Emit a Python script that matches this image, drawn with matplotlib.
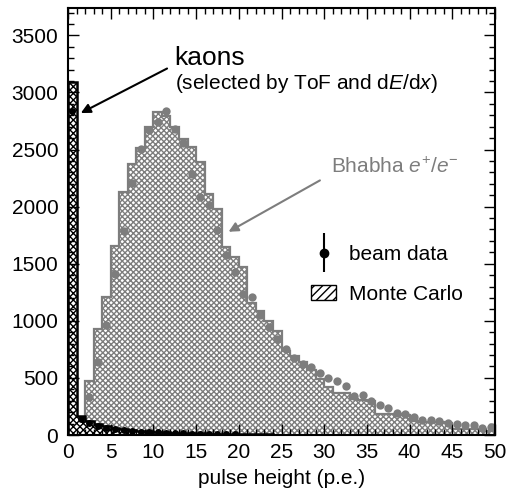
import numpy as np
import matplotlib
matplotlib.use('Agg')
import matplotlib.pyplot as plt
from matplotlib.patches import Patch
from matplotlib.container import ErrorbarContainer
from matplotlib.legend_handler import HandlerErrorbar
from matplotlib.ticker import MultipleLocator

plt.rcParams['font.family'] = ['Liberation Sans', 'DejaVu Sans']
plt.rcParams['mathtext.fontset'] = 'custom'
plt.rcParams['mathtext.rm'] = 'Liberation Sans'
plt.rcParams['mathtext.it'] = 'Liberation Sans:italic'
plt.rcParams['hatch.linewidth'] = 1.0

# bin edges in p.e., one bin per photoelectron
edges = np.arange(0, 51, 1)

# Bhabha e+/e- Monte Carlo, counts per bin
bhabha_mc = [30, 40, 475, 930, 1205, 1655, 2125, 2375, 2515, 2700,
             2830, 2790, 2700, 2590, 2520, 2390, 2110, 1980, 1645, 1555,
             1470, 1160, 1090, 1000, 910, 740, 690, 640, 570, 490,
             420, 370, 370, 315, 310, 300, 185, 180, 180, 175,
             120, 118, 115, 112, 108, 55, 55, 52, 50, 35]

# Bhabha beam data (bin centres from 2.5 p.e.)
bhabha_x = np.arange(2.5, 50, 1)
bhabha_data = [330, 643, 962, 1410, 1785, 2205, 2506, 2673, 2740, 2842,
               2681, 2555, 2287, 2082, 2018, 1796, 1579, 1424, 1234, 1205,
               1053, 942, 845, 751, 673, 620, 596, 541, 503, 474,
               430, 342, 351, 298, 263, 240, 196, 181, 161, 132,
               132, 123, 108, 94, 88, 88, 64, 70]

# kaon Monte Carlo, counts per bin
kaon_mc = [3090, 170, 125, 95, 75, 60, 50, 42, 36, 31,
           27, 24, 21, 18, 16, 14, 12, 10, 9, 8,
           7, 6, 5, 5, 4, 4, 3, 3, 3, 2,
           2, 2, 2, 1, 1, 1, 1, 1, 0, 0,
           0, 0, 0, 0, 0, 0, 0, 0, 0, 0]

# kaon beam data
kaon_x = np.arange(0.5, 20, 1)
kaon_data = [2840, 140, 105, 80, 62, 50, 42, 36, 30, 30,
             24, 20, 18, 14, 12, 10, 9, 8, 6, 5]

grey = '#7d7d7d'

fig = plt.figure(figsize=(5.09, 4.94), dpi=100)
ax = fig.add_axes([68/509, 1-435/494, (495-68)/509, (435-8)/494])

ax.stairs(bhabha_mc, edges, fill=True, facecolor='white', edgecolor=grey,
          hatch='xxxxxx', linewidth=0)
ax.stairs(bhabha_mc, edges, color=grey, linewidth=1.6)
ax.stairs(kaon_mc, edges, fill=True, facecolor='white', edgecolor='black',
          hatch='xxxxx', linewidth=0)
ax.stairs(kaon_mc, edges, color='black', linewidth=1.8)

ax.plot(bhabha_x, bhabha_data, 'o', color=grey, ms=6, mec='none')
ax.plot(kaon_x, kaon_data, 'o', color='black', ms=5, mec='none')

ax.set_xlim(0, 50)
ax.set_ylim(0, 3740)
ax.xaxis.set_major_locator(MultipleLocator(5))
ax.xaxis.set_minor_locator(MultipleLocator(1))
ax.yaxis.set_major_locator(MultipleLocator(500))
ax.yaxis.set_minor_locator(MultipleLocator(100))
ax.tick_params(which='both', direction='in', top=True, right=True,
               labelsize=15, width=1)
ax.tick_params(which='major', length=8)
ax.tick_params(which='minor', length=4)
ax.tick_params(axis='y', pad=7)
ax.tick_params(axis='x', pad=6)
for s in ax.spines.values():
    s.set_linewidth(1.5)
ax.set_xlabel('pulse height (p.e.)', fontsize=15, labelpad=5)

ax.annotate('', xy=(1.5, 2820), xytext=(11.6, 3210),
            arrowprops=dict(arrowstyle='-|>', color='black', lw=1.5,
                            mutation_scale=14, shrinkA=0, shrinkB=0))
ax.text(12.5, 3300, 'kaons', fontsize=19, va='center', ha='left')
ax.text(12.5, 3075, r'(selected by ToF and d$\it{E}$/d$\it{x}$)',
        fontsize=15, va='center', ha='left')

ax.annotate('', xy=(18.8, 1780), xytext=(29.5, 2230),
            arrowprops=dict(arrowstyle='-|>', color=grey, lw=1.5,
                            mutation_scale=14, shrinkA=0, shrinkB=0))
ax.text(30.8, 2345, r'Bhabha $e^{+}/e^{-}$', fontsize=15, color=grey,
        va='center', ha='left')

# legend entries
h_data = ax.errorbar([np.nan], [np.nan], yerr=[1], fmt='o', color='black',
                     ms=6, lw=1.5)
h_mc = Patch(facecolor='white', edgecolor='black', hatch='////', lw=1)
ax.legend([h_data, h_mc], ['beam data', 'Monte Carlo'],
          handler_map={ErrorbarContainer: HandlerErrorbar(yerr_size=0.95)},
          loc='upper left', bbox_to_anchor=(0.57, 0.445), frameon=False,
          fontsize=15, handlelength=1.2, handletextpad=0.6,
          labelspacing=1.0, borderpad=0, borderaxespad=0)

fig.savefig('out.png', dpi=100)
